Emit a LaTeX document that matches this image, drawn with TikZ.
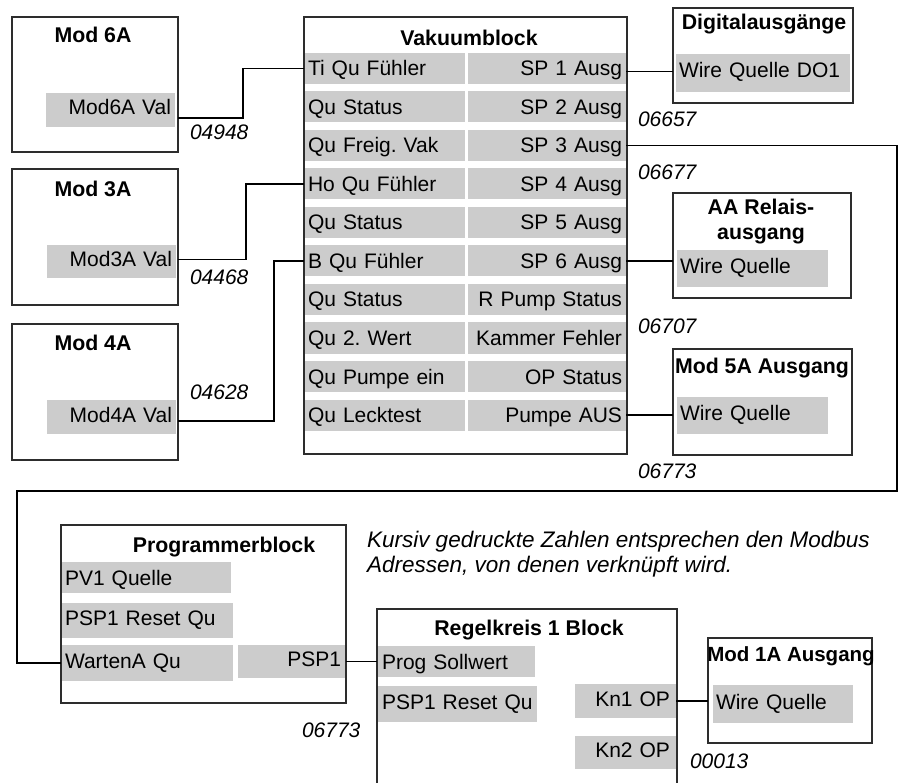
\documentclass[tikz,border=0pt]{standalone}
\usepackage{fontspec}
\setmainfont{Liberation Sans}
\usetikzlibrary{calc}
\definecolor{cellgray}{RGB}{204,204,204}
\definecolor{linec}{RGB}{45,45,45}
\frenchspacing
\begin{document}
\begin{tikzpicture}[x=1pt,y=-1pt,
  every node/.style={inner sep=0pt, outer sep=0pt},
  blk/.style={draw=linec, line width=1.2pt, anchor=north west},
  ttl/.style={font=\fontsize{21.3}{25}\selectfont\bfseries, anchor=base},
  adr/.style={font=\fontsize{21}{25}\selectfont\itshape, anchor=base west},
  note/.style={font=\fontsize{22.5}{26}\selectfont\itshape, anchor=base west},
  cell/.style={fill=cellgray, anchor=north west, font=\fontsize{21}{25}\selectfont\frenchspacing,
    inner xsep=4pt, inner ysep=0pt, text height=15pt, text depth=0pt},
  cl/.style={cell, align=left},
  cr/.style={cell, align=right},
  hi/.style={text depth=5pt},
  conn/.style={draw=black, line width=1.2pt},
]
\useasboundingbox (0,0) rectangle (923,783);

% ---------- Mod boxes (left) ----------
\node[cr, text width=121pt, minimum height=34pt, hi] (m6v) at (46,93) {Mod6A Val};
\node[cr, text width=121pt, minimum height=33pt, hi] (m3v) at (47,245) {Mod3A Val};
\node[cr, text width=121pt, minimum height=34pt, hi] (m4v) at (47,400) {Mod4A Val};
\node[blk, minimum width=166pt, minimum height=135pt] (m6) at (12,17) {};
\node[blk, minimum width=166pt, minimum height=136pt] (m3) at (12,169) {};
\node[blk, minimum width=166pt, minimum height=136pt] (m4) at (12,324) {};
\node[ttl] (m6t) at (93,43) {Mod 6A};
\node[ttl] (m3t) at (93,197) {Mod 3A};
\node[ttl] (m4t) at (93,351) {Mod 4A};

% ---------- Vakuumblock ----------
\foreach \l/\r [count=\i] in {Ti Qu Fühler/SP 1 Ausg, Qu Status/SP 2 Ausg,
  Qu Freig. Vak/SP 3 Ausg, Ho Qu Fühler/SP 4 Ausg, Qu Status/SP 5 Ausg,
  B Qu Fühler/SP 6 Ausg, Qu Status/R Pump Status, Qu 2. Wert/Kammer Fehler,
  Qu Pumpe ein/OP Status, Qu Lecktest/Pumpe AUS}{
  \node[cl, text width=153pt, minimum height=31pt] (r\i) at (304,{53+38.5*(\i-1)}) {\mbox{\l}};
  \node[cr, text width=150pt, minimum height=31pt] (s\i) at (468,{53+38.5*(\i-1)}) {\mbox{\r}};
}
\node[blk, minimum width=323pt, minimum height=437pt] (vak) at (304,17) {};
\node[ttl] (vakt) at (469,46) {Vakuumblock};

% ---------- right output boxes ----------
\node[cl, inner xsep=3pt, text width=168pt, minimum height=38pt, hi] (digv) at (676,54) {Wire Quelle DO1};
\node[blk, minimum width=180pt, minimum height=95pt] (dig) at (673,8) {};
\node[ttl] (digt) at (764,30) {Digitalausgänge};

\node[cl, inner xsep=3pt, text width=145pt, minimum height=37pt, hi] (aav) at (677,250) {Wire Quelle};
\node[blk, minimum width=178pt, minimum height=105pt] (aa) at (673,193) {};
\node[ttl] (aat1) at (761,215) {AA Relais-};
\node[ttl] (aat2) at (761,240) {ausgang};

\node[cl, inner xsep=3pt, text width=145pt, minimum height=37pt, hi] (m5v) at (677,397) {Wire Quelle};
\node[blk, minimum width=179pt, minimum height=106pt] (m5) at (673,349) {};
\node[ttl] (m5t) at (762,373) {Mod 5A Ausgang};

% ---------- Programmerblock ----------
\node[cl, text width=162pt, minimum height=31pt] (pv1) at (61,562) {PV1 Quelle};
\node[cl, text width=164pt, minimum height=35pt, hi] (psr) at (61,603) {\mbox{PSP1 Reset Qu}};
\node[cl, text width=164pt, minimum height=36pt, hi] (warten) at (61,645) {WartenA Qu};
\node[cr, inner xsep=5pt, text width=98pt, minimum height=33pt, hi] (psp1) at (238,645) {PSP1};
\node[blk, minimum width=285pt, minimum height=178pt] (prog) at (61,525) {};
\node[ttl] (progt) at (224,552) {Programmerblock};

% ---------- Regelkreis 1 Block ----------
\node[cl, inner xsep=5pt, text width=148pt, minimum height=31pt] (psoll) at (377,646) {Prog Sollwert};
\node[cl, inner xsep=5pt, text width=150pt, minimum height=36pt, hi] (rres) at (377,686) {\mbox{PSP1 Reset Qu}};
\node[cr, inner xsep=6pt, text width=89pt, minimum height=34pt, hi] (kn1) at (575,684) {Kn1 OP};
\node[cr, inner xsep=6pt, text width=89pt, minimum height=33pt, hi] (kn2) at (575,736) {Kn2 OP};
\node[blk, minimum width=300pt, minimum height=200pt] (rk) at (377,609) {};
\node[ttl] (rkt) at (529,635) {Regelkreis 1 Block};

% ---------- Mod 1A Ausgang ----------
\node[cl, inner xsep=3pt, text width=134pt, minimum height=38pt, hi] (m1v) at (713,685) {Wire Quelle};
\node[blk, minimum width=164pt, minimum height=105pt] (m1) at (708,638) {};
\node[ttl, font=\fontsize{20.5}{25}\selectfont\bfseries] (m1t) at (791,661) {Mod 1A Ausgang};

% ---------- Modbus addresses ----------
\node[adr] (a1) at (190,140) {04948};
\node[adr] (a2) at (190,285) {04468};
\node[adr] (a3) at (190,399) {04628};
\node[adr] (a4) at (638,127) {06657};
\node[adr] (a5) at (638,180) {06677};
\node[adr] (a6) at (638,334) {06707};
\node[adr] (a7) at (638,478) {06773};
\node[adr] (a8) at (302,737) {06773};
\node[adr] (a9) at (690,768) {00013};

% ---------- note ----------
\node[note] (n1) at (367,547) {Kursiv gedruckte Zahlen entsprechen den Modbus};
\node[note] (n2) at (367,572) {Adressen, von denen verknüpft wird.};

% ---------- connectors ----------
\coordinate (loopR) at (897,491);
\coordinate (loopL) at (17,491);
\draw[conn] ($(m6.east |- m6v.east)+(0,8)$) -| ($(r1.west)+(-61,0)$) -- (r1.west);
\draw[conn] ($(m3.east |- m3v.east)+(0,-2)$) -| ($(r4.west)+(-58,0)$) -- (r4.west);
\draw[conn] ($(m4.east |- m4v.east)+(0,4)$) -| ($(r6.west)+(-30,0)$) -- (r6.west);
\draw[conn] ($(s1.east)+(0,3)$) -- ($(s1.east -| dig.west)+(0,3)$);
\draw[conn] (s3.east) -| (loopR) -- (loopL) |- (warten.west);
\draw[conn] (s6.east) -- (s6.east -| aa.west);
\draw[conn] (s10.east) -- (s10.east -| m5.west);
\draw[conn] (psp1.east) -- (psp1.east -| rk.west);
\draw[conn] (kn1.east) -- (kn1.east -| m1.west);
\end{tikzpicture}
\end{document}
